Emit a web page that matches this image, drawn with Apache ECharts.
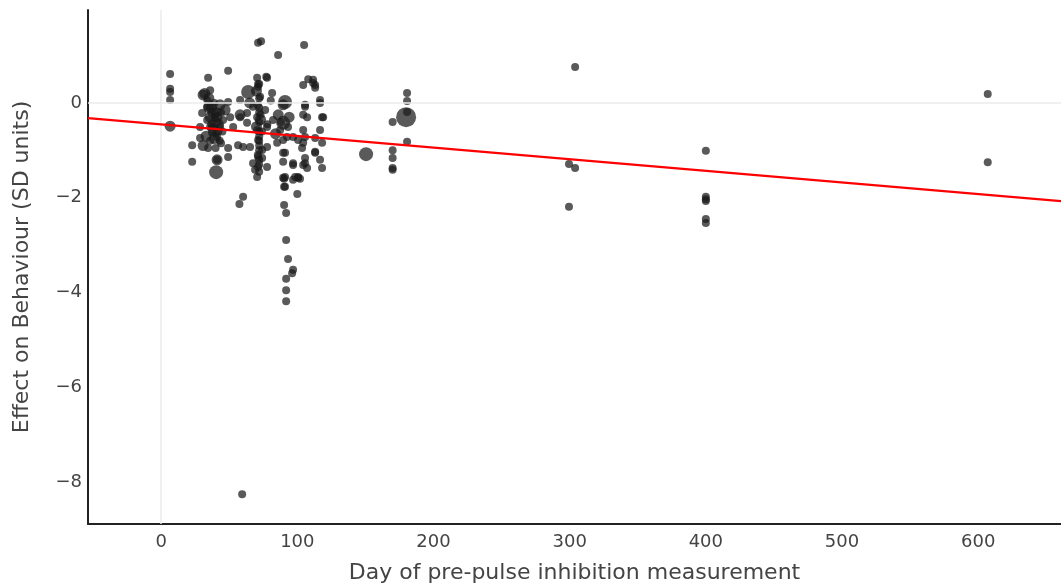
<!DOCTYPE html>
<html><head><meta charset="utf-8">
<script src="https://cdn.jsdelivr.net/npm/echarts@6/dist/echarts.min.js"></script>
<style>html,body{margin:0;padding:0;background:#fff}#c{width:1061px;height:586px}</style>
</head><body><div id="c"></div>
<script>
// day of measurement
const days = [
6.6,6.6,6.6,6.6,6.6,34.5,49.2,71.2,73.4,85.9,105,
30.8,36,43.3,49.2,58,63.9,70.5,71.2,77.8,81.5,91,104.3,111.6,113.1,105.7,116.7,119,116.7,118.2,118.2,
104.3,104.3,104.3,105.7,96.9,104.3,113.1,91,98.4,100.6,91,22.8,22.8,28.6,34.5,41.1,40.4,49.2,49.2,56.5,
65.3,71.2,71.2,70.5,77.8,77.8,85.2,91,92.5,
28.6,33.8,37.4,41.1,43.3,33.8,30.1,39.6,45.5,50.7,52.9,58,63.1,67.5,70.5,70.5,71.2,72.7,76.4,77.8,82.2,
87.4,89.6,93.2,96.9,100.6,63.1,
89.6,105.7,116.7,107.2,118.2,89.6,105.7,113.1,103.5,113.1,116.7,89.6,89.6,96.9,105.7,107.2,89.6,96.9,100.6,
74.2,74.2,69,67.5,60.2,
72,72,72,72,72,72,72,72,72,72,72,72,
35,37,38,40,36,42,39,44,36,40,
41.1,30.8,40.4,47,58,
71.2,77.2,65,80.5,78,108,111.6,113.1,
90.3,90.3,90.3,91.8,91.8,93.2,96.9,96.2,91.8,91.8,91.8,100,102,59.5,
57.5,60.2,
32,34,36,38,40,42,44,33,37,41,45,39,35,43,
70,71,73,70,72,74,71,73,86,88,84,94,
150.5,170,170,170,170,170,180.6,180.6,179.9,180.6,180.6,
304,299.5,304,299.5,400,400,400,400,400,400,607,607
];
// effect size (SD units)
const effects = [
0.61,0.3,0.23,0.06,-0.49,0.53,0.68,1.27,1.3,1.01,1.22,
0.17,0.27,-0.04,0.02,0.06,0.23,0.53,0.34,0.53,0.21,0.02,0.38,0.49,0.38,-0.08,0.06,-0.3,-0.57,-0.84,-1.37,
-0.25,-0.57,-0.84,-1.16,-1.31,-1.31,-1.03,-1.56,-1.56,-1.56,-1.77,-0.89,-1.24,-0.74,-0.95,-1.2,-1.46,-0.95,-1.14,-0.89,
-0.93,-1.14,-1.35,-1.56,-0.93,-1.35,-0.84,-1.05,-0.72,
-0.51,-0.36,-0.63,-0.72,-0.51,-0.08,-0.21,-0.3,-0.36,-0.3,-0.51,-0.3,-0.42,-0.08,-0.3,-0.57,-0.78,0.13,-0.15,-0.51,-0.36,
-0.57,-0.78,-0.51,-0.72,-0.78,-0.21,
-0.04,-0.04,0,-0.3,-0.3,-0.42,-0.72,-0.74,-0.95,-1.05,-1.2,-1.05,-1.24,-1.27,-1.27,-1.37,-1.58,-1.62,-1.58,
-0.99,-1.16,-1.41,-1.27,-0.93,
0.4,0.1,-0.1,-0.2,-0.4,-0.6,-0.7,-0.9,-1.0,-1.2,-1.3,-1.45,
0.1,-0.1,-0.2,-0.4,-0.5,-0.6,-0.75,-0.85,-0.8,-0.95,
-1.2,-0.9,-0.2,-0.15,-0.25,
0.4,0.55,0.0,0.05,-0.45,0.5,0.42,0.32,
-1.6,-1.77,-2.15,-2.32,-2.89,-3.29,-3.52,-3.59,-3.71,-3.95,-4.18,-1.92,-1.6,-8.25,
-2.13,-1.98,
0.2,0.05,-0.3,-0.55,-0.65,-0.45,-0.2,-0.7,-0.45,-0.3,-0.6,0.0,-0.1,-0.8,
0.25,-0.05,-0.25,-0.5,-0.8,-0.6,-1.1,-0.35,-0.25,-0.4,-0.65,-0.3,
-1.08,-0.4,-1.0,-1.16,-1.37,-1.41,0.21,0.04,-0.3,-0.19,-0.82,
0.76,-1.29,-1.37,-2.19,-1.01,-1.98,-2.07,-2.03,-2.45,-2.53,0.19,-1.25
];
// marker diameter class (1 small .. 4 very large)
const weights = [
1,1,1,1,2,1,1,1,1,1,1,
2,1,2,1,1,3,1,1,1,1,3,1,1,1,1,1,1,1,1,1,
1,1,1,1,1,1,1,1,1,1,1,1,1,1,1,1,3,1,1,1,
1,1,1,1,1,1,1,1,1,
1,1,1,1,1,1,1,1,1,1,1,1,1,1,1,1,1,1,1,1,1,
1,1,1,1,1,1,
2,1,1,1,1,3,1,1,1,1,1,1,1,1,1,1,1,1,1,
1,1,1,1,1,
1,1,1,1,1,1,1,1,1,1,1,1,
2,2,2,2,1,1,2,1,1,1,
2,2,2,2,2,
1,1,2,1,1,1,1,1,
1,1,1,1,1,1,1,1,1,1,1,1,1,1,
1,1,
2,1,2,2,1,2,1,2,1,2,1,1,2,1,
2,1,1,2,1,1,1,2,2,1,2,2,
3,1,1,1,1,1,1,1,4,1,1,
1,1,1,1,1,1,1,1,1,1,1,1
];
// meta-regression fit
const fitIntercept = -0.45;
const fitSlope = -0.00245;
const xTicks = [0,100,200,300,400,500,600];
const yTicks = [-8,-6,-4,-2,0];
const xRange = [-53.7, 660.8];
const yRange = [-8.88, 1.96];

const sizeMap = {1:8, 2:11, 3:14, 4:20};
const pts = days.map((d,i)=>[d, effects[i], weights[i]]);
const fitLine = xRange.map(x=>[x, fitIntercept + fitSlope*x]);

const chart = echarts.init(document.getElementById('c'), null, {renderer:'canvas'});
const font = 'DejaVu Sans';
chart.setOption({
  animation:false,
  grid:{left:88,right:0,top:10,bottom:62,containLabel:false,outerBoundsMode:'none'},
  xAxis:{type:'value',min:xRange[0],max:xRange[1],
    name:'Day of pre-pulse inhibition measurement',nameLocation:'middle',nameGap:38,
    nameTextStyle:{color:'#444',fontSize:22,fontFamily:font},
    axisLine:{show:true,onZero:false,lineStyle:{color:'#222',width:2}},
    axisTick:{show:false},splitLine:{show:false},
    axisLabel:{customValues:xTicks,color:'#444',fontSize:18,fontFamily:font,margin:9}},
  yAxis:{type:'value',min:yRange[0],max:yRange[1],
    name:'Effect on Behaviour (SD units)',nameLocation:'middle',nameGap:55,
    nameTextStyle:{color:'#444',fontSize:22,fontFamily:font},
    axisLine:{show:true,onZero:false,lineStyle:{color:'#222',width:2}},
    axisTick:{show:false},splitLine:{show:false},
    axisLabel:{customValues:yTicks,color:'#444',fontSize:18,fontFamily:font,margin:6,
      formatter:v=>String(v).replace('-','\u2212')}},
  series:[
    {type:'line',data:[],markLine:{silent:true,symbol:'none',label:{show:false},
      lineStyle:{color:'#ebebeb',width:1.5,type:'solid'},data:[{xAxis:0},{yAxis:0}]}},
    {type:'scatter',data:pts,symbolSize:v=>sizeMap[v[2]],
      itemStyle:{color:'#1a1a1a',opacity:0.72}},
    {type:'line',data:fitLine,showSymbol:false,lineStyle:{color:'#ff0000',width:2.2},z:5}
  ]
});
</script></body></html>
